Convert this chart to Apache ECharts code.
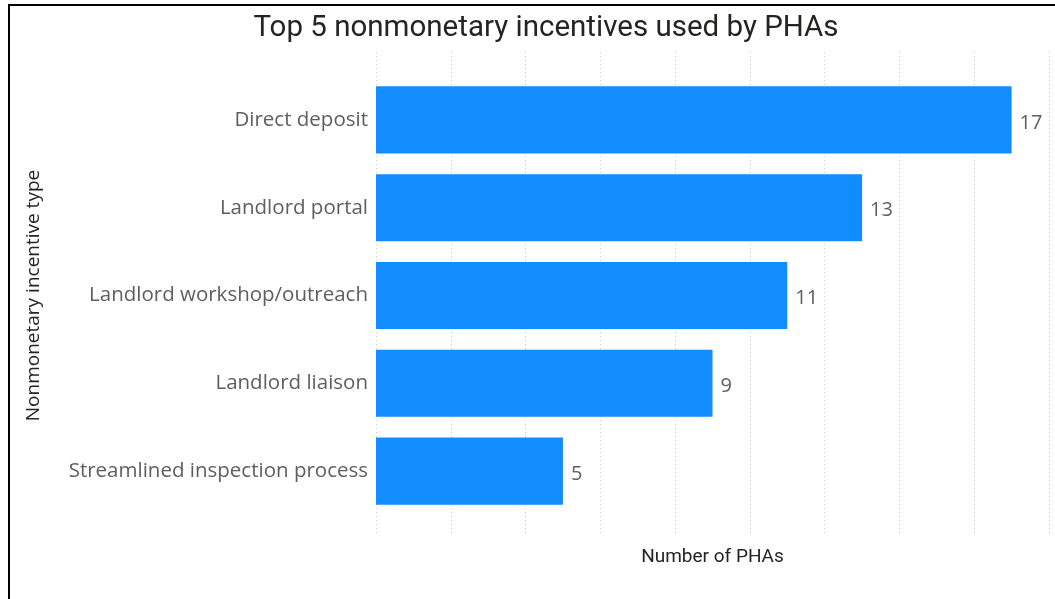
<!DOCTYPE html>
<html>
<head>
<meta charset="utf-8">
<script src="https://cdn.jsdelivr.net/npm/echarts@6/dist/echarts.min.js"></script>
<style>
html,body{margin:0;padding:0;background:#fff;}
#c{width:1055px;height:599px;}
</style>
</head>
<body>
<div id="c"></div>
<script>
const categories = ["Direct deposit", "Landlord portal", "Landlord workshop/outreach", "Landlord liaison", "Streamlined inspection process"];
const values = [17, 13, 11, 9, 5];
const titleText = "Top 5 nonmonetary incentives used by PHAs";
const xAxisName = "Number of PHAs";
const yAxisName = "Nonmonetary incentive type";

const chart = echarts.init(document.getElementById('c'));
const option = {
  backgroundColor: '#fff',
  animation: false,
  title: {
    text: titleText,
    left: 541, top: 9,
    textAlign: 'center',
    textStyle: { fontFamily: 'Roboto', fontSize: 29.5, fontWeight: 'normal', color: '#252423' }
  },
  graphic: [{
    type: 'rect', shape: { x: 9, y: 5, width: 1100, height: 700 },
    style: { fill: 'none', stroke: '#000', lineWidth: 2 }, silent: true
  }],
  grid: [
    { left: 376, right: 6, top: 76, bottom: 84 },
    { left: 376, right: 6, top: 52, bottom: 64 }
  ],
  xAxis: [
    { gridIndex: 0, type: 'value', min: 0, max: 18, interval: 2,
      axisLine: { show: false }, axisTick: { show: false }, axisLabel: { show: false }, splitLine: { show: false } },
    { gridIndex: 1, type: 'value', min: 0, max: 18, interval: 2,
      name: xAxisName, nameLocation: 'middle', nameGap: 13,
      nameTextStyle: { fontFamily: 'Roboto', fontSize: 19, color: '#252423' },
      axisLine: { show: false }, axisTick: { show: false }, axisLabel: { show: false },
      splitLine: { show: true, lineStyle: { type: [1, 3], color: '#c8c8c8', width: 1 } } }
  ],
  yAxis: [
    { gridIndex: 0, type: 'category', data: categories, inverse: true,
      name: yAxisName, nameLocation: 'middle', nameGap: 333, nameRotate: 90,
      nameTextStyle: { fontFamily: 'Open Sans', fontSize: 19, color: '#252423' },
      axisLine: { show: false }, axisTick: { show: false },
      axisLabel: { margin: 8, fontFamily: 'Open Sans', fontSize: 20.5, color: '#605E5C' } },
    { gridIndex: 1, type: 'value', show: false }
  ],
  series: [{
    type: 'bar', xAxisIndex: 0, yAxisIndex: 0,
    data: values, barCategoryGap: '23.6%',
    itemStyle: { color: '#118DFF' },
    label: { show: true, position: 'right', distance: 8, offset: [0, 3], fontFamily: 'Open Sans', fontSize: 20, color: '#605E5C' }
  }]
};
chart.setOption(option);
</script>
</body>
</html>
